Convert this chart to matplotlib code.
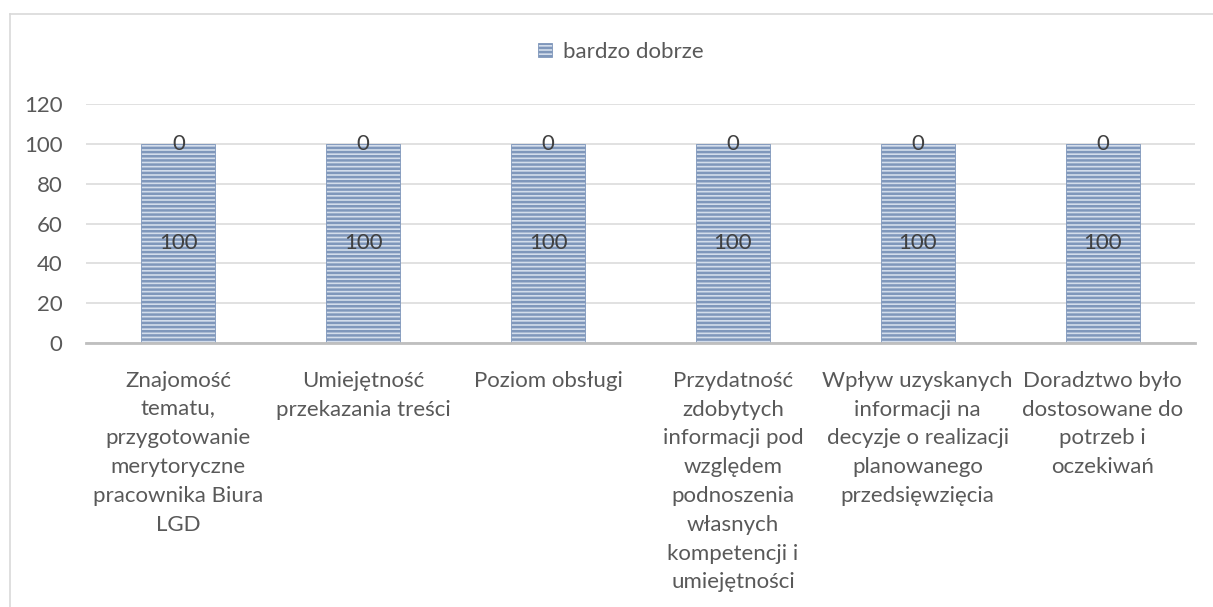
import matplotlib
matplotlib.use('Agg')
import matplotlib.pyplot as plt
from matplotlib.lines import Line2D
import numpy as np

categories = [
    'Znajomość\ntematu,\nprzygotowanie\nmerytoryczne\npracownika Biura\nLGD',
    'Umiejętność\nprzekazania treści',
    'Poziom obsługi',
    'Przydatność\nzdobytych\ninformacji pod\nwzględem\npodnoszenia\nwłasnych\nkompetencji i\numiejętności',
    'Wpływ uzyskanych\ninformacji na\ndecyzje o realizacji\nplanowanego\nprzedsięwzięcia',
    'Doradztwo było\ndostosowane do\npotrzeb i\noczekiwań',
]
bardzo_dobrze = [100, 100, 100, 100, 100, 100]
inne = [0, 0, 0, 0, 0, 0]
series_name = 'bardzo dobrze'
y_ticks = [0, 20, 40, 60, 80, 100, 120]

text_color = '#595959'
plt.rcParams['font.family'] = ['Lato', 'DejaVu Sans']
plt.rcParams['hatch.linewidth'] = 1.8
plt.rcParams['hatch.color'] = '#5a789f'

W, H = 1213, 607
fig = plt.figure(figsize=(W / 100, H / 100), dpi=100)
ax = fig.add_axes([86 / W, 1 - 343 / H, (1195 - 86) / W, (343 - 104) / H])

x = np.arange(len(categories))
bars = ax.bar(x, bardzo_dobrze, width=0.40, color='#d3ddeb', edgecolor='#7f97bb',
              linewidth=0.6, hatch='----', label=series_name, zorder=2)
top = ax.bar(x, inne, width=0.40, bottom=bardzo_dobrze, color='none', zorder=2)

ax.bar_label(bars, labels=[str(v) for v in bardzo_dobrze], label_type='center',
             fontsize=16, color='#404040')
ax.bar_label(top, labels=[str(v) for v in inne], label_type='center',
             fontsize=16, color='#404040')

ax.set_xlim(-0.5, len(categories) - 0.5)
ax.set_ylim(0, 120)
ax.set_yticks(y_ticks)
ax.set_xticks(x)
ax.set_xticklabels(categories, fontsize=16, color=text_color, linespacing=1.55)
ax.tick_params(axis='y', length=0, pad=17, labelsize=16, labelcolor=text_color)
ax.tick_params(axis='x', length=0, pad=20)
ax.grid(axis='y', color='#d9d9d9', linewidth=1.1, zorder=0)
ax.set_axisbelow(True)
for side in ['top', 'right', 'left']:
    ax.spines[side].set_visible(False)
ax.spines['bottom'].set_color('#bfbfbf')
ax.spines['bottom'].set_linewidth(2)

fig.legend(loc='center', bbox_to_anchor=(621 / W, 1 - 52 / H), frameon=False,
           fontsize=16, labelcolor=text_color, handlelength=0.6, handleheight=0.6,
           handletextpad=0.5)

# outer chart frame
fig.add_artist(Line2D([10 / W, 10 / W], [0, 1 - 14 / H], color='#d9d9d9', linewidth=1.2))
fig.add_artist(Line2D([10 / W, 1], [1 - 14 / H, 1 - 14 / H], color='#d9d9d9', linewidth=1.2))

fig.savefig('out.png', dpi=100)
